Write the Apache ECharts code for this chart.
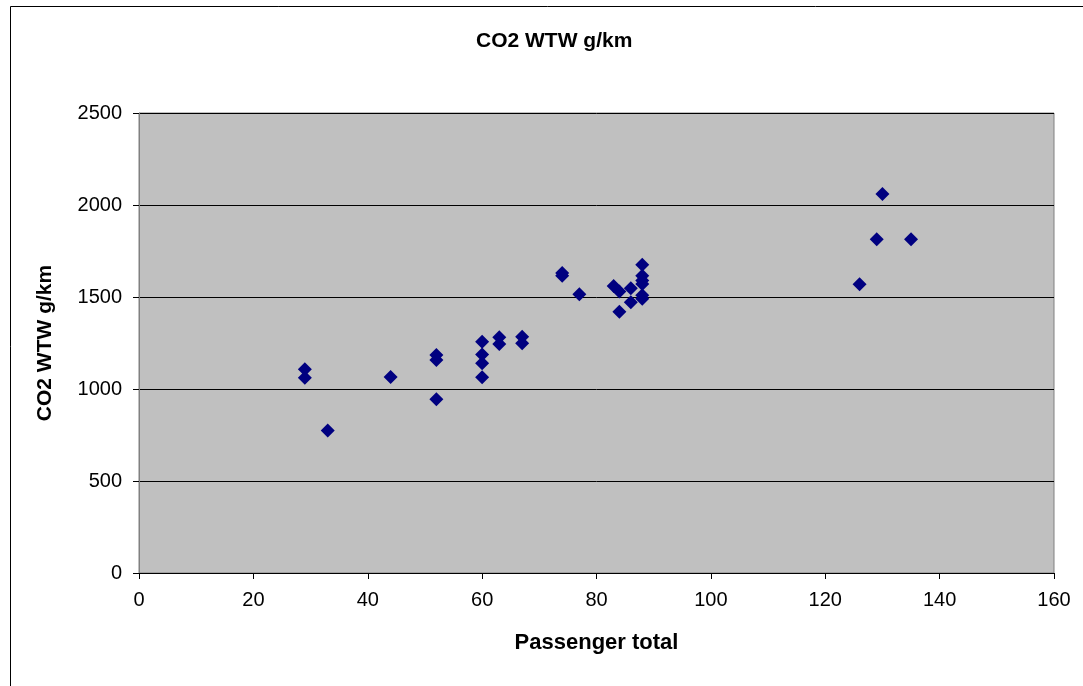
<!DOCTYPE html>
<html>
<head>
<meta charset="utf-8">
<script src="https://cdn.jsdelivr.net/npm/echarts@6/dist/echarts.min.js"></script>
<style>html,body{margin:0;padding:0;background:#fff;}#c{width:1083px;height:686px;}</style>
</head>
<body>
<div id="c"></div>
<script>
const chartTitle = 'CO2 WTW g/km';
const xAxisTitle = 'Passenger total';
const yAxisTitle = 'CO2 WTW g/km';
const passengers = [29,29,33,44,52,52,52,60,60,60,60,63,63,67,67,74,74,77,83,84,84,86,86,88,88,88,88,88,88,126,129,130,135];
const co2 = [1107,1061,775,1065,1185,1158,944,1257,1188,1140,1064,1281,1245,1284,1248,1630,1615,1515,1560,1530,1420,1547,1471,1675,1615,1590,1570,1510,1490,1569,1814,2060,1814];

const FONT = 'Arial, "Liberation Sans", sans-serif';
const points = passengers.map((p, i) => [p, co2[i]]);

const chart = echarts.init(document.getElementById('c'), null, {renderer: 'canvas'});
chart.setOption({
  animation: false,
  backgroundColor: '#ffffff',
  title: {
    text: chartTitle,
    left: 471, top: 26,
    textStyle: {fontFamily: FONT, fontSize: 21, fontWeight: 'bold', color: '#000'}
  },
  graphic: [{
    type: 'rect', left: 8, top: 4, z: -1,
    shape: {width: 1090, height: 700},
    style: {fill: 'none', stroke: '#000', lineWidth: 1}
  }],
  grid: {
    left: 139, top: 113, right: 29, bottom: 113,
    show: true, backgroundColor: '#C0C0C0', borderColor: '#808080', borderWidth: 1
  },
  xAxis: {
    type: 'value', min: 0, max: 160, interval: 20,
    name: xAxisTitle, nameLocation: 'middle', nameGap: 59,
    nameTextStyle: {fontFamily: FONT, fontSize: 22, fontWeight: 'bold', color: '#000'},
    axisLine: {show: true, lineStyle: {color: '#000', width: 1}},
    axisTick: {show: true, inside: false, length: 6, lineStyle: {color: '#000'}},
    axisLabel: {fontFamily: FONT, fontSize: 20, color: '#000', margin: 17, formatter: v => String(v)},
    splitLine: {show: false}
  },
  yAxis: {
    type: 'value', min: 0, max: 2500, interval: 500,
    name: yAxisTitle, nameLocation: 'middle', nameGap: 83, nameRotate: 90,
    nameTextStyle: {fontFamily: FONT, fontSize: 21, fontWeight: 'bold', color: '#000'},
    axisLine: {show: true, lineStyle: {color: '#808080', width: 1}},
    axisTick: {show: true, inside: false, length: 6, lineStyle: {color: '#000'}},
    axisLabel: {fontFamily: FONT, fontSize: 20, color: '#000', margin: 17, formatter: v => String(v)},
    splitLine: {show: true, lineStyle: {color: '#000', width: 1}}
  },
  series: [{
    type: 'scatter',
    data: points,
    symbol: 'diamond',
    symbolSize: [14, 14],
    itemStyle: {color: '#000080', opacity: 1}
  }]
});
</script>
</body>
</html>
